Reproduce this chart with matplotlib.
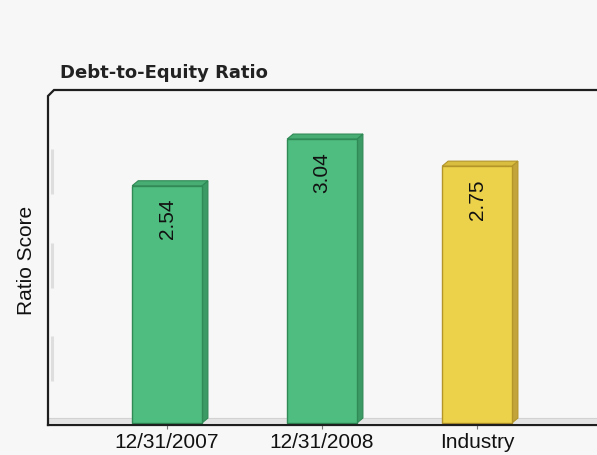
import matplotlib.pyplot as plt
from matplotlib.patches import Polygon

# Debt-to-equity ratios for the company vs. its industry
categories = ["12/31/2007", "12/31/2008", "Industry"]
ratios = [2.54, 3.04, 2.75]
wall_levels = [1, 2, 3]

face_colors = ["#50bd80", "#50bd80", "#ecd24b"]
side_colors = ["#3c9a64", "#3c9a64", "#c2a43a"]
top_colors = ["#47ad73", "#47ad73", "#d9bd3e"]
edge_colors = ["#2f8a55", "#2f8a55", "#b4952a"]

BG = "#f7f7f7"
bar_width = 0.45
depth_x, depth_y = 6 / 155, 5 / 93.4

fig = plt.figure(figsize=(5.97, 4.55), dpi=100, facecolor=BG)
ax = fig.add_axes([48 / 597, 30 / 455, 549 / 597, 335 / 455])
ax.set_facecolor(BG)
ax.set_xlim(-0.768, 2.774)
ax.set_ylim(-0.021, 3.565)

# floor strip and faint shading on the back wall
ax.axhspan(0, depth_y, color="#e4e4e4", zorder=0.5, lw=0)
ax.axhline(depth_y, color="#d2d2d2", lw=0.8, zorder=0.6)
for lvl in wall_levels:
    ax.plot([-0.745, -0.745], [lvl - 0.07, lvl - 0.55], color="#dedede",
            lw=2.2, solid_capstyle="butt", zorder=0.6)

xs = range(len(categories))
ax.bar(xs, ratios, width=bar_width, color=face_colors, edgecolor=edge_colors,
       linewidth=1.0, zorder=3)

for x, v, side, top, edge in zip(xs, ratios, side_colors, top_colors, edge_colors):
    x0, x1 = x - bar_width / 2, x + bar_width / 2
    ax.add_patch(Polygon([(x1, 0), (x1 + depth_x, depth_y), (x1 + depth_x, v + depth_y), (x1, v)],
                         closed=True, facecolor=side, edgecolor=edge, lw=0.8, zorder=2.5))
    ax.add_patch(Polygon([(x0, v), (x0 + depth_x, v + depth_y), (x1 + depth_x, v + depth_y), (x1, v)],
                         closed=True, facecolor=top, edgecolor=edge, lw=0.8, zorder=2.5))
    ax.annotate(f"{v:.2f}", xy=(x, v), xytext=(0, -9.5), textcoords="offset points",
                rotation=90, ha="center", va="top", fontsize=15,
                family="Liberation Sans", color="#111111", zorder=4)

# frame: left and top edges with a clipped corner, plus the base line
for s in ax.spines.values():
    s.set_visible(False)
cx, cy = 6 / 549, 6 / 335
ax.plot([0, 0, cx, 1], [0, 1 - cy, 1, 1], transform=ax.transAxes, color="#1e1e1e",
        lw=1.6, clip_on=False, zorder=5, solid_joinstyle="miter")
ax.plot([0, 1], [0, 0], transform=ax.transAxes, color="#1e1e1e", lw=1.6,
        clip_on=False, zorder=5)

ax.set_xticks(list(xs))
ax.set_xticklabels(categories, fontsize=15, family="Liberation Sans", color="#111111")
ax.tick_params(axis="x", length=3, width=0.8, color="#777777", pad=2.5)
ax.set_yticks([])

ax.set_ylabel("Ratio Score", fontsize=15, family="Liberation Sans", color="#111111")
ax.yaxis.set_label_coords(-0.022, 0.49)

fig.text(60 / 597, (455 - 73) / 455, "Debt-to-Equity Ratio", fontsize=13,
         fontweight="bold", family="DejaVu Sans", color="#222222", va="center")

fig.savefig("out.png", dpi=100, facecolor=BG)
